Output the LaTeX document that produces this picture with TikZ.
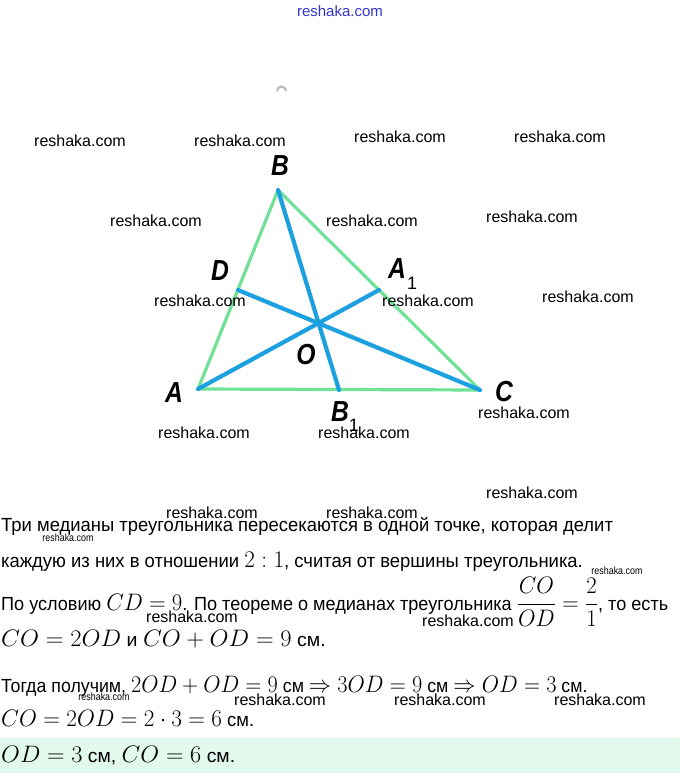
\documentclass[tikz,border=0pt]{standalone}
\usepackage{fontspec}
\usepackage{amsmath}
\usepackage{graphicx}
\setmainfont{Liberation Sans}
\newfontfamily\lblfont{Liberation Sans}
\definecolor{trigreen}{RGB}{112,226,152}
\definecolor{medblue}{RGB}{28,160,224}
\definecolor{bandgreen}{RGB}{226,250,238}
\definecolor{wmblue}{RGB}{50,50,210}
\newcommand{\mm}[1]{\scalebox{1.15}{\fontsize{20}{24}\selectfont$#1$}}
\tikzset{
  tri/.style={draw=trigreen, line width=3.2pt, line cap=round, line join=round},
  med/.style={draw=medblue, line width=4.2pt, line cap=round},
  lbl/.style={font=\lblfont\fontsize{29}{31}\selectfont\bfseries\itshape, inner sep=0pt, xscale=0.85},
  lbls/.style={font=\lblfont\fontsize{18}{20}\selectfont, inner sep=0pt},
  wm/.style={font=\fontsize{16}{18}\selectfont, inner sep=0pt},
  wms/.style={font=\fontsize{10.5}{12}\selectfont, inner sep=0pt, xscale=0.85},
  txt/.style={font=\fontsize{19}{22}\selectfont, anchor=base west, inner sep=0pt, xscale=0.97},
}
\begin{document}
\begin{tikzpicture}[x=1pt,y=-1pt]
\useasboundingbox (0,0) rectangle (680,773);
% green band
\fill[bandgreen] (0,738) rectangle (680,773);
% header watermark
\node[inner sep=0pt, text=wmblue, font=\fontsize{15}{17}\selectfont] (top) at (340,11) {reshaka.com};
\draw[gray!55, line width=2pt] (277,91) arc[start angle=180, end angle=360, radius=4.5];
% triangle
\coordinate (A) at (198,389);
\coordinate (B) at (278,190);
\coordinate (C) at (480,390);
\coordinate (D) at (238,290);
\coordinate (A1) at (379,290);
\coordinate (B1) at (339,390);
\coordinate (O) at (319,323);
\draw[tri] (A) -- (B) -- (C) -- cycle;
\draw[med] (A) -- (A1);
\draw[med] (B) -- (B1);
\draw[med] (C) -- (D);
% labels
\node[lbl] (lB) at (280,166) {B};
\node[lbl] (lD) at (220,271) {D};
\node[lbl] (lA1) at (397,269) {A};
\node[lbls] (lA1s) at (412,283) {1};
\node[lbl] (lO) at (306,355) {O};
\node[lbl] (lA) at (174,393) {A};
\node[lbl] (lC) at (504,392) {C};
\node[lbl] (lB1) at (340,412) {B};
\node[lbls] (lB1s) at (354,425) {1};
% watermarks
\node[wm] (w1) at (80,141) {reshaka.com};
\node[wm] (w2) at (240,141) {reshaka.com};
\node[wm] (w3) at (400,137) {reshaka.com};
\node[wm] (w4) at (560,137) {reshaka.com};
\node[wm] (w5) at (156,221) {reshaka.com};
\node[wm] (w6) at (372,221) {reshaka.com};
\node[wm] (w7) at (532,217) {reshaka.com};
\node[wm] (w8) at (200,301) {reshaka.com};
\node[wm] (w9) at (428,301) {reshaka.com};
\node[wm] (w10) at (588,297) {reshaka.com};
\node[wm] (w11) at (204,433) {reshaka.com};
\node[wm] (w12) at (364,433) {reshaka.com};
\node[wm] (w13) at (524,413) {reshaka.com};
\node[wm] (w14) at (532,493) {reshaka.com};
\node[wm] (w15) at (212,513) {reshaka.com};
\node[wm] (w16) at (372,513) {reshaka.com};
\node[wms] (w17) at (68,538) {reshaka.com};
\node[wms] (w18) at (617,571) {reshaka.com};
\node[wm] (w19) at (192,617) {reshaka.com};
\node[wm] (w20) at (468,621) {reshaka.com};
\node[wms] (w21) at (104,697) {reshaka.com};
\node[wm] (w22) at (280,700) {reshaka.com};
\node[wm] (w23) at (440,700) {reshaka.com};
\node[wm] (w24) at (600,700) {reshaka.com};
% text
\node[txt] (t1) at (1,531) {Три медианы треугольника пересекаются в одной точке, которая делит};
\node[txt] (t2) at (1,567) {каждую из них в отношении \mm{2:1}, считая от вершины треугольника.};
\node[txt, xscale=0.982] (t3) at (1,610) {По условию \mm{CD=9}. По теореме о медианах треугольника \mm{\dfrac{CO}{OD}=\dfrac{2}{1}}, то есть};
\node[txt, xscale=1.06] (t4) at (1,646) {\mm{CO=2OD} и \mm{CO+OD=9} см.};
\node[txt, xscale=0.964] (t5) at (1,692) {Тогда получим, \mm{2OD+OD=9} см \mm{\Rightarrow 3OD=9} см \mm{\Rightarrow OD=3} см.};
\node[txt] (t6) at (1,726) {\mm{CO=2OD=2\cdot 3=6} см.};
\node[txt, xscale=1.05] (t7) at (1,762) {\mm{OD=3} см, \mm{CO=6} см.};
\end{tikzpicture}
\end{document}
